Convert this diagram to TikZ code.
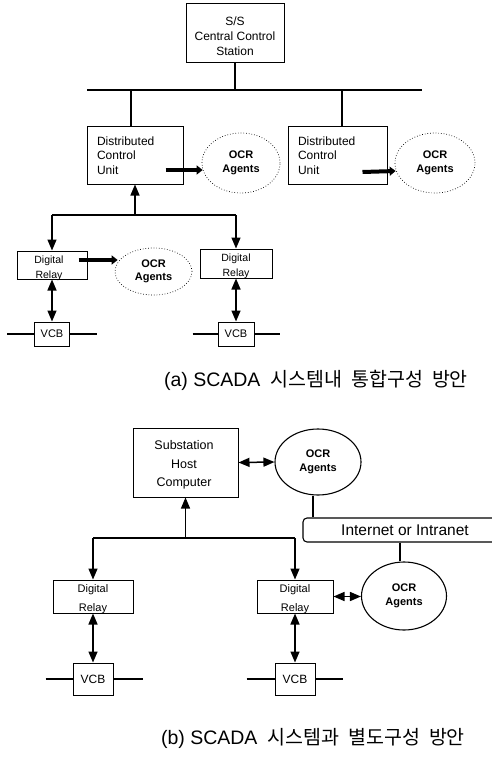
\documentclass[tikz,border=0pt]{standalone}
\usepackage{fontspec}
\setmainfont{Liberation Sans}
\newfontfamily\cjk{Noto Sans CJK KR}
\usetikzlibrary{arrows.meta,shapes.geometric,calc}
\tikzset{
  box/.style={draw, line width=1pt, inner sep=0pt},
  lbl/.style={inner sep=0pt, align=center},
  ocrd/.style={ellipse, draw, dotted, line width=0.7pt, inner sep=0pt, align=center, font=\bfseries\fontsize{11}{13.5}\selectfont},
  ocrs/.style={ellipse, draw, line width=1.1pt, inner sep=0pt, align=center, font=\bfseries\fontsize{11}{13.5}\selectfont},
  ln/.style={line width=1.1pt},
  arr/.style={line width=1.3pt, -{Triangle[width=9pt,length=11pt]}},
  dbl/.style={line width=1.5pt, {Triangle[width=9pt,length=11pt]}-{Triangle[width=9pt,length=11pt]}},
  plug/.style={line width=4pt, -{Triangle[width=9pt,length=6pt]}},
  captxt/.style={inner sep=0pt, font=\fontsize{19.5}{22}\selectfont}
}
\begin{document}
\begin{tikzpicture}[x=1pt,y=-1pt]
\useasboundingbox (0,0) rectangle (492,757);
% ---------------- (a) ----------------
\node[box, minimum width=98pt, minimum height=59pt] (ss) at (235,33) {};
\node[lbl, font=\fontsize{12}{15}\selectfont] (sst) at (235,36) {S/S\\Central Control\\Station};
\coordinate (busL) at (87,90);
\coordinate (busR) at (422,90);
\draw[ln] (busL) -- (busR);
\draw[ln] (ss.south) -- (ss.south |- busL);

\node[box, minimum width=96pt, minimum height=57pt, align=left, text width=76pt, inner xsep=10pt, font=\fontsize{12}{14.5}\selectfont] (dcu1) at (135,155.5) {Distributed\\Control\\Unit};
\node[box, minimum width=99pt, minimum height=57pt, align=left, text width=79pt, inner xsep=10pt, font=\fontsize{12}{14.5}\selectfont] (dcu2) at (337.5,155.5) {Distributed\\Control\\Unit};
\draw[ln] ([xshift=-4pt]dcu1.north) -- ([xshift=-4pt]dcu1.north |- busL);
\draw[ln] ([xshift=4.5pt]dcu2.north) -- ([xshift=4.5pt]dcu2.north |- busL);

\node[ocrd, minimum width=78pt, minimum height=60pt] (ocr1) at (241,163) {OCR\\Agents};
\node[ocrd, minimum width=80pt, minimum height=60pt] (ocr2) at (435,163) {OCR\\Agents};
\draw[plug] ($(dcu1.east)+(-18,14.5)$) -- ($(ocr1.west)+(1,7)$);
\draw[plug] ($(dcu2.east)+(-25,16.5)$) -- ($(ocr2.west)+(1,8)$);

\node[box, minimum width=70pt, minimum height=28pt] (dr1) at (52,265) {};
\node[lbl, font=\fontsize{10.5}{15}\selectfont] at (49,268) {Digital\\Relay};
\node[box, minimum width=72pt, minimum height=29pt] (dr2) at (236,263.5) {};
\node[lbl, font=\fontsize{10.5}{15}\selectfont] at (236,266.5) {Digital\\Relay};

\coordinate (j1) at (135,215);
\draw[arr] (j1) -- (dcu1.south);
\draw[ln] (dr1.north |- j1) -- (dr2.north |- j1);
\draw[arr] (dr1.north |- j1) -- (dr1.north);
\draw[arr] (dr2.north |- j1) -- (dr2.north);

\node[ocrd, minimum width=77pt, minimum height=47pt] (ocr3) at (153.5,271.5) {OCR\\Agents};
\draw[plug] ($(dr1.east)+(-9,-5)$) -- ($(ocr3.west)+(3,-11.5)$);

\node[box, minimum width=35pt, minimum height=24pt, font=\fontsize{11}{13}\selectfont] (vcb1) at (52,334) {VCB};
\node[box, minimum width=36pt, minimum height=24pt, font=\fontsize{11}{13}\selectfont] (vcb2) at (236,334) {VCB};
\draw[dbl] (dr1.south) -- (vcb1.north);
\draw[dbl] (dr2.south) -- (vcb2.north);
\draw[ln] ([xshift=-27pt]vcb1.west) -- (vcb1.west);
\draw[ln] (vcb1.east) -- ([xshift=27pt]vcb1.east);
\draw[ln] ([xshift=-25pt]vcb2.west) -- (vcb2.west);
\draw[ln] (vcb2.east) -- ([xshift=25pt]vcb2.east);

\node[captxt] (capa) at (316,380) {(a) SCADA\hspace{10pt}{\cjk 시스템내\hspace{9pt}통합구성\hspace{9pt}방안}};

% ---------------- (b) ----------------
\node[box, minimum width=105pt, minimum height=69pt] (host) at (185.5,462.5) {};
\node[lbl, font=\fontsize{12.5}{18.5}\selectfont] at (184,465) {Substation\\Host\\Computer};
\node[ocrs, minimum width=86pt, minimum height=66pt] (ocr4) at (318,462) {OCR\\Agents};
\draw[dbl] (host.east) -- (ocr4.west);

\node[draw, line width=1.1pt, rounded corners=4pt, minimum width=210pt, minimum height=24pt, inner sep=0pt, font=\fontsize{15.5}{17}\selectfont] (inet) at (408,530) {\hspace*{-6pt}Internet or Intranet};
\draw[ln] ([xshift=-5pt]ocr4.south) -- ([xshift=-5pt]ocr4.south |- inet.north);

\node[ocrs, minimum width=85pt, minimum height=68pt] (ocr5) at (404,596) {OCR\\Agents};
\draw[ln] ([xshift=-4pt]ocr5.north |- inet.south) -- ([xshift=-4pt]ocr5.north);

\node[box, minimum width=80pt, minimum height=33pt] (dr3) at (93,596.5) {};
\node[lbl, font=\fontsize{11}{19}\selectfont] at (93,599) {Digital\\Relay};
\node[box, minimum width=76pt, minimum height=33pt] (dr4) at (295,596.5) {};
\node[lbl, font=\fontsize{11}{19}\selectfont] at (295,599) {Digital\\Relay};

\coordinate (j2) at (185.5,538);
\draw[arr] (j2) -- (host.south);
\draw[ln] (dr3.north |- j2) -- (dr4.north |- j2);
\draw[arr] (dr3.north |- j2) -- (dr3.north);
\draw[arr] (dr4.north |- j2) -- (dr4.north);
\draw[dbl] (dr4.east) -- (ocr5.west |- dr4.east);

\node[box, minimum width=40pt, minimum height=32pt, font=\fontsize{12}{14}\selectfont] (vcb3) at (93,679) {VCB};
\node[box, minimum width=40pt, minimum height=32pt, font=\fontsize{12}{14}\selectfont] (vcb4) at (295,679) {VCB};
\draw[dbl] (dr3.south) -- (vcb3.north);
\draw[dbl] (dr4.south) -- (vcb4.north);
\draw[ln] ([xshift=-27pt]vcb3.west) -- (vcb3.west);
\draw[ln] (vcb3.east) -- ([xshift=29pt]vcb3.east);
\draw[ln] ([xshift=-28pt]vcb4.west) -- (vcb4.west);
\draw[ln] (vcb4.east) -- ([xshift=27pt]vcb4.east);

\node[captxt] (capb) at (313,738) {(b) SCADA\hspace{10pt}{\cjk 시스템과\hspace{9pt}별도구성\hspace{9pt}방안}};
\end{tikzpicture}
\end{document}
